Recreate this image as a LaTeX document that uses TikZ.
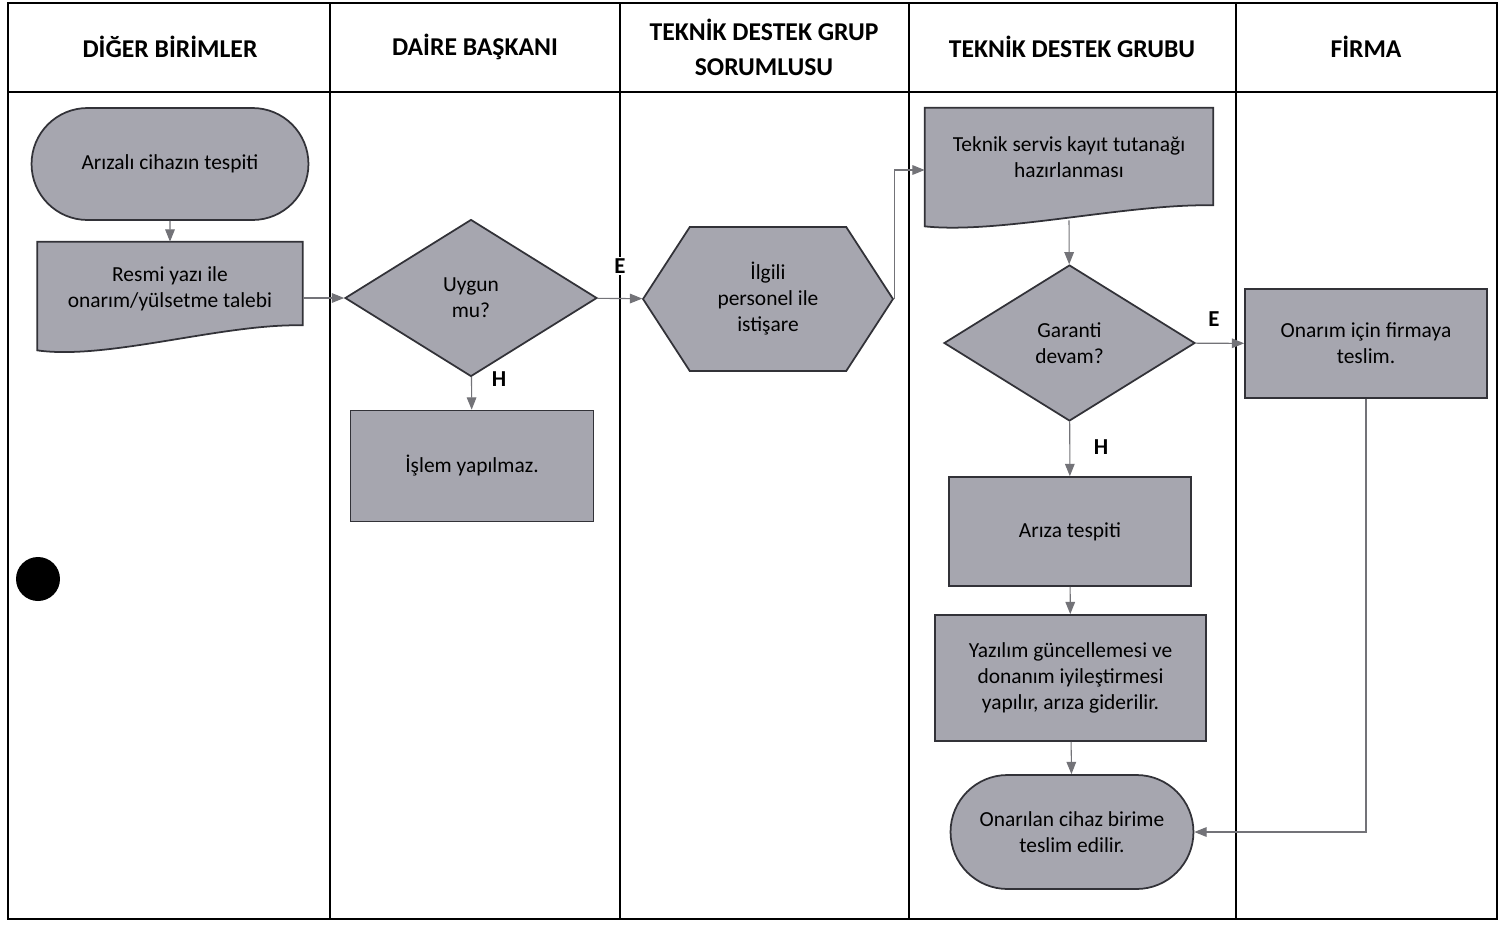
\documentclass[tikz,border=0pt]{standalone}
\usepackage{fontspec}
\setmainfont{Carlito}
\usetikzlibrary{shapes.geometric,shapes.misc,shapes.symbols,arrows.meta,calc,backgrounds}
\definecolor{kutu}{RGB}{166,166,175}
\definecolor{cizgi}{RGB}{50,50,56}
\definecolor{okrenk}{RGB}{115,115,120}

\begin{document}
\begin{tikzpicture}[x=0.02cm, y=-0.02cm, font=\fontsize{12.2}{14.8}\selectfont,
    base/.style={draw=cizgi, line width=1pt, fill=kutu, align=center, inner sep=2pt},
    terminal/.style={base, rounded rectangle, rounded rectangle arc length=180},
    islem/.style={base, rectangle},
    karar/.style={base, diamond, aspect=1.6, inner sep=0pt},
    hazirlik/.style={base, signal, signal to=east and west, signal pointer angle=114},
    belge/.style={align=center, inner sep=0pt},
    belgekenar/.style={draw=cizgi, line width=1pt, fill=kutu},
    baslik/.style={font=\fontsize{14.6}{20}\selectfont\bfseries, align=center},
    etiket/.style={font=\fontsize{13}{15}\selectfont\bfseries, fill=white, inner sep=1pt},
    akis/.style={draw=okrenk, line width=0.6pt, -{Triangle[length=7pt,width=5.5pt]}},
    tablo/.style={draw=black, line width=1.1pt}]

    \useasboundingbox (0,0) rectangle (1509,924);

    % tablo
    \draw[tablo] (8,3) rectangle (1497,919);
    \draw[tablo] (8,92) -- (1497,92);
    \foreach \x in {330,620,909,1236}
        \draw[tablo] (\x,3) -- (\x,919);

    % basliklar
    \node[baslik] (hdiger) at (170,47) {DİĞER BİRİMLER};
    \node[baslik] (hdaire) at (475,47) {DAİRE BAŞKANI};
    \node[baslik] (hsorumlu) at (764,47) {TEKNİK DESTEK GRUP\\SORUMLUSU};
    \node[baslik] (hgrup) at (1072,47) {TEKNİK DESTEK GRUBU};
    \node[baslik] (hfirma) at (1366,47) {FİRMA};

    % diger birimler
    \node[terminal, minimum width=5.68cm, minimum height=2.24cm] (ariza) at (170,164) {Arızalı cihazın tespiti};
    \node[belge, minimum width=5.3cm, minimum height=1.86cm] (talep) at (170,288.5) {Resmi yazı ile\\onarım/yülsetme talebi};

    % daire baskani
    \node[karar, minimum width=5.04cm, minimum height=3.14cm] (uygun) at (471,298) {Uygun\\mu?};
    \node[islem, minimum width=4.86cm, minimum height=2.22cm] (yapilmaz) at (472,466) {İşlem yapılmaz.};

    % grup sorumlusu
    \node[hazirlik, minimum width=5cm, minimum height=2.88cm] (istisare) at (768,299) {İlgili\\personel ile\\istişare};

    % teknik destek grubu
    \node[belge, minimum width=5.76cm, minimum height=1.96cm] (tutanak) at (1069,157) {Teknik servis kayıt tutanağı\\hazırlanması};
    \node[karar, minimum width=5.02cm, minimum height=3.12cm] (garanti) at (1069.5,343) {Garanti\\devam?};
    \node[islem, minimum width=4.84cm, minimum height=2.18cm] (tespit) at (1070,531.5) {Arıza tespiti};
    \node[islem, minimum width=5.42cm, minimum height=2.52cm] (yazilim) at (1070.5,678) {Yazılım güncellemesi ve\\donanım iyileştirmesi\\yapılır, arıza giderilir.};
    \node[terminal, minimum width=5cm, minimum height=2.28cm] (teslim) at (1072,832) {Onarılan cihaz birime\\teslim edilir.};

    % firma
    \node[islem, minimum width=4.84cm, minimum height=2.18cm] (firma) at (1366,343.5) {Onarım için firmaya\\teslim.};

    % belge kenarlari
    \begin{scope}[on background layer]
        \draw[belgekenar] (talep.north west) -- (talep.north east) -- ($(talep.south east)+(0,-10)$)
            .. controls ($(talep.south east)+(-80,-12)$) and ($(talep.south west)+(70,25)$) .. ($(talep.south west)+(0,15)$) -- cycle;
        \draw[belgekenar] (tutanak.north west) -- (tutanak.north east) -- ($(tutanak.south east)+(0,-1)$)
            .. controls ($(tutanak.south east)+(-85,-3)$) and ($(tutanak.south west)+(75,28)$) .. ($(tutanak.south west)+(0,20)$) -- cycle;
    \end{scope}

    % oklar
    \draw[akis] (ariza) -- (talep);
    \draw[akis] (talep.east |- uygun) -- (uygun);
    \draw[akis] (uygun) -- (istisare);
    \draw[akis] (uygun) -- (yapilmaz);
    \draw[akis] (istisare.east) |- ($(tutanak.west)+(0,13)$);
    \draw[akis] ($(tutanak.south)+(0,14)$) -- (garanti);
    \draw[akis] (garanti) -- (firma);
    \draw[akis] (garanti) -- (tespit);
    \draw[akis] (tespit) -- (yazilim);
    \draw[akis] (yazilim) -- (teslim);
    \draw[akis] (firma.south) |- (teslim.east);

    % etiketler
    \node[etiket] (e1) at (620,266) {E};
    \node[etiket] (h1) at (499,379) {H};
    \node[etiket] (e2) at (1214,319) {E};
    \node[etiket] (h2) at (1101,447) {H};

    % delik
    \fill (38,579) circle[radius=0.44cm];

\end{tikzpicture}
\end{document}
